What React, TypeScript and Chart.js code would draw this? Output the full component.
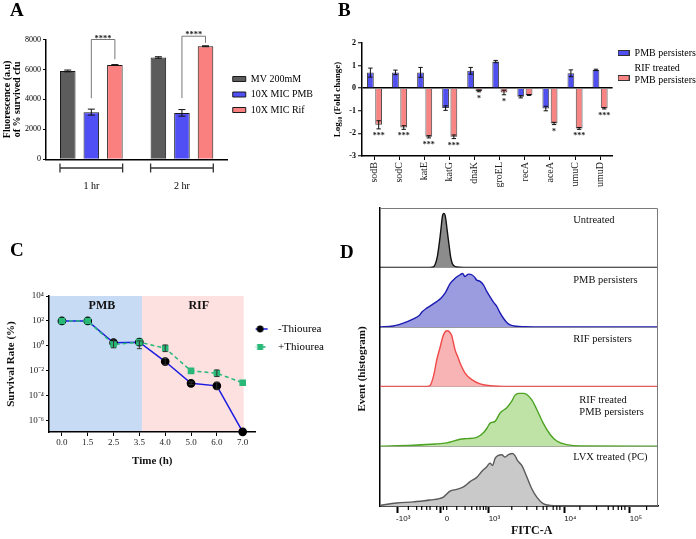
import React, { useEffect, useRef } from 'react';
import { Chart, registerables } from 'chart.js';

Chart.register(...registerables);

const SERIF = "'Liberation Serif', 'Times New Roman', serif";
const SANS = "'Liberation Sans', Arial, sans-serif";

// ===== Panel A : fluorescence (a.u) =====
const aGroups = ['1 hr', '2 hr'];
const aSeriesNames = ['MV 200mM', '10X MIC PMB', '10X MIC Rif'];
const aMV = [5900, 6800];
const aPMB = [3150, 3100];
const aRif = [6300, 7550];
const aMVErr = [60, 50];
const aPMBErr = [200, 220];
const aRifErr = [25, 30];
const aSigLabels = ['****', '****'];
const aSigTop = [8000, 8220];
const aSigLeftEnd = [4080, 4090];
const aSigRightEnd = [6680, 7780];

// ===== Panel B : log10 fold change =====
const bGenes = ['sodB', 'sodC', 'katE', 'katG', 'dnaK', 'groEL', 'recA', 'aceA', 'umuC', 'umuD'];
const bSeriesNames: any[] = ['PMB persisters', ['RIF treated', 'PMB persisters']];
const bPMB = [0.69, 0.7, 0.7, -0.88, 0.77, 1.18, -0.38, -0.9, 0.66, 0.81];
const bPMBErr = [0.2, 0.1, 0.22, 0.1, 0.15, 0.05, 0.05, 0.1, 0.15, 0.03];
const bRIF = [-1.62, -1.74, -2.15, -2.15, -0.12, -0.19, -0.3, -1.56, -1.78, -0.89];
const bRIFErr = [0.18, 0.08, 0.05, 0.08, 0.04, 0.1, 0.02, 0.05, 0.04, 0.03];
const bStars = ['***', '***', '***', '***', '*', '*', '', '*', '***', '***'];

// ===== Panel C : survival rate =====
const cTimes = ['0.0', '1.5', '2.5', '3.5', '4.0', '5.0', '6.0', '7.0'];
const cSeriesNames = ['-Thiourea', '+Thiourea'];
const cMinus = [100, 100, 1.8, 2.0, 0.056, 0.001, 0.00063, 1.3e-7];
const cMinusLo = [100, 100, 0.7, 0.6, 0.03, 0.0008, 0.00034, 1.3e-7];
const cMinusHi = [100, 100, 3.0, 2.5, 0.1, 0.0013, 0.0012, 1.3e-7];
const cPlus = [100, 100, 1.3, 2.0, 0.65, 0.01, 0.0065, 0.0011];
const cPlusLo = [100, 100, 1.3, 2.0, 0.35, 0.01, 0.0035, 0.0011];
const cPlusHi = [100, 100, 1.3, 2.0, 1.2, 0.01, 0.012, 0.0011];
const cYTicks = [1e-6, 1e-4, 1e-2, 1, 1e2, 1e4];
const cYTickLabels = ['10⁻⁶', '10⁻⁴', '10⁻²', '10⁰', '10²', '10⁴'];
const cPhaseNames = ['PMB', 'RIF'];
const cPhaseFrom = [-0.5, 3.1];
const cPhaseTo = [3.1, 7.04];
const cPhaseLabelAt = [1.55, 5.3];

// ===== Panel D : FITC-A histograms (channel, % of strip height) =====
const dLabels: any[] = ['Untreated', 'PMB persisters', 'RIF persisters', ['RIF treated', 'PMB persisters'], 'LVX treated (PC)'];
const dUntreated = [[0, 0.3], [180, 0.3], [192, 1], [199, 6], [206, 18], [211, 33], [216, 51], [220, 68], [223, 81], [226, 89], [230, 91], [234, 88], [237, 80], [241, 65], [245, 50], [250, 32], [254, 18], [260, 7], [266, 3], [275, 1], [300, 0.3], [1000, 0.3]];
const dPMB = [[0, 0.5], [47, 2], [96, 9], [120, 14], [144, 21], [150, 25], [168, 32], [185, 37], [204, 43], [220, 49], [234, 57], [252, 73], [270, 82], [288, 88], [297, 90], [306, 85], [318, 89], [330, 88], [340, 84], [348, 79], [360, 77], [372, 71], [384, 60], [396, 51], [408, 42], [420, 35], [432, 24], [444, 15], [456, 8], [468, 4], [490, 1.5], [520, 0.8], [600, 0.4], [1000, 0.3]];
const dRIF = [[0, 0.4], [170, 0.5], [180, 2], [192, 17], [198, 30], [204, 45], [216, 66], [226, 84], [234, 92], [242, 94], [250, 92], [258, 86], [264, 74], [270, 62], [280, 50], [288, 40], [306, 23], [330, 12], [360, 5], [396, 1.7], [468, 0.5], [1000, 0.4]];
const dRifPmb = [[0, 0.5], [119, 2], [200, 4], [240, 6], [288, 12], [312, 13], [348, 15], [372, 23], [384, 30], [396, 39], [414, 42], [432, 56], [456, 65], [474, 76], [486, 86], [500, 89], [516, 89], [528, 87], [546, 78], [564, 62], [587, 39], [612, 20], [636, 9], [672, 3], [719, 0.6], [1000, 0.4]];
const dLVX = [[0, 1], [60, 5], [120, 7], [180, 10], [228, 15], [252, 25], [276, 28], [300, 32], [324, 41], [348, 48], [366, 58], [384, 66], [396, 72], [405, 68], [414, 80], [426, 85], [438, 86], [450, 82], [462, 86], [477, 88], [486, 84], [495, 76], [510, 68], [528, 49], [546, 29], [564, 15], [587, 4], [612, 1], [647, 0.4], [1000, 0.3]];
const dSeries = [dUntreated, dPMB, dRIF, dRifPmb, dLVX];
const dMajorTicks = [62, 219, 390, 663, 899];
const dMajorLabels = ['-10³', '0', '10³', '10⁴', '10⁵'];
const dMinorTicks = [102, 132, 150, 168, 180, 204, 228, 240, 276, 306, 330, 348, 360, 372, 381, 474, 528, 564, 587, 600, 623, 636, 647, 719, 779, 821, 839, 857, 869, 881, 959];

// ---------- styles (kept apart from data) ----------
const aColors = ['#5c5c5c', '#4f4ff5', '#fa8080'];
const bColors = ['#5050f0', '#f88484'];
const dLine = ['#111111', '#1c1cb4', '#f04a4a', '#4ca323', '#5a5a5a'];
const dFill = ['#8c8c8c', '#9b9be0', '#f8b4b4', '#bfe3a6', '#c9c9c9'];
const dLabelX = [695, 695, 695, 717, 695];
const dLabelDy = [12, 12.5, 12, 13, 10.5];

function drawErr(ctx: any, x: number, yA: number, yB: number, cap: number, color = '#111', lw = 1) {
  ctx.save();
  ctx.strokeStyle = color;
  ctx.lineWidth = lw;
  ctx.beginPath();
  ctx.moveTo(x, yA); ctx.lineTo(x, yB);
  ctx.moveTo(x - cap, yA); ctx.lineTo(x + cap, yA);
  ctx.moveTo(x - cap, yB); ctx.lineTo(x + cap, yB);
  ctx.stroke();
  ctx.restore();
}

function makeImg(w: number, h: number, draw: (g: CanvasRenderingContext2D) => void) {
  const c = document.createElement('canvas');
  c.width = w; c.height = h;
  draw(c.getContext('2d') as CanvasRenderingContext2D);
  return c;
}

function configA(): any {
  const plugin = {
    id: 'aExtras',
    afterDatasetsDraw(chart: any) {
      const { ctx } = chart;
      const y = chart.scales.y;
      const errs = [aMVErr, aPMBErr, aRifErr];
      chart.data.datasets.forEach((ds: any, i: number) => {
        chart.getDatasetMeta(i).data.forEach((bar: any, j: number) => {
          const v = ds.data[j];
          const e = errs[i][j];
          drawErr(ctx, bar.x, y.getPixelForValue(v + e), y.getPixelForValue(v - e), 3.5);
        });
      });
    },
    afterDraw(chart: any) {
      const { ctx, chartArea } = chart;
      const y = chart.scales.y;
      const m0 = chart.getDatasetMeta(0).data;
      const m1 = chart.getDatasetMeta(1).data;
      const m2 = chart.getDatasetMeta(2).data;
      ctx.save();
      ctx.strokeStyle = '#333';
      ctx.lineWidth = 1.3;
      aGroups.forEach((_, j) => {
        const l = m0[j].x - m0[j].width / 2;
        const r = m2[j].x + m2[j].width / 2;
        const yy = chartArea.bottom + 8.7;
        ctx.beginPath();
        ctx.moveTo(l, yy); ctx.lineTo(r, yy);
        ctx.moveTo(l, yy - 4.5); ctx.lineTo(l, yy + 4.5);
        ctx.moveTo(r, yy - 4.5); ctx.lineTo(r, yy + 4.5);
        ctx.stroke();
      });
      ctx.strokeStyle = '#777';
      ctx.lineWidth = 1;
      ctx.fillStyle = '#222';
      ctx.font = `bold 8.5px ${SERIF}`;
      ctx.textAlign = 'center';
      ctx.textBaseline = 'alphabetic';
      aSigLabels.forEach((t, j) => {
        const xl = m1[j].x, xr = m2[j].x;
        const yt = y.getPixelForValue(aSigTop[j]);
        ctx.beginPath();
        ctx.moveTo(xl, y.getPixelForValue(aSigLeftEnd[j]));
        ctx.lineTo(xl, yt); ctx.lineTo(xr, yt);
        ctx.lineTo(xr, y.getPixelForValue(aSigRightEnd[j]));
        ctx.stroke();
        ctx.fillText(t, (xl + xr) / 2, yt + 1);
      });
      ctx.restore();
    },
  };
  const series = [aMV, aPMB, aRif];
  return {
    type: 'bar',
    data: {
      labels: aGroups,
      datasets: series.map((d, i) => ({
        label: aSeriesNames[i], data: d, backgroundColor: aColors[i], borderColor: '#1a1a1a', borderWidth: 1,
        categoryPercentage: 0.78, barPercentage: 0.66,
      })),
    },
    options: {
      responsive: false, animation: false,
      layout: { padding: { left: 0, top: 39.5, right: 0, bottom: 0 } },
      plugins: {
        tooltip: { enabled: false },
        legend: {
          position: 'right', align: 'start', maxWidth: 300,
          title: { display: true, text: '', font: { size: 1 }, padding: { top: 0, bottom: 27.8 } },
          labels: { boxWidth: 13, boxHeight: 5, padding: 5.5, color: '#000', font: { family: SERIF, size: 10 } },
        },
      },
      scales: {
        x: {
          grid: { display: false },
          border: { display: true, color: '#000', width: 1.5 },
          ticks: { padding: 13, color: '#000', font: { family: SERIF, size: 10 } },
          afterFit: (s: any) => { s.height = 40.7; },
        },
        y: {
          min: 0, max: 8000,
          ticks: { stepSize: 2000, color: '#000', padding: 2, font: { family: SERIF, size: 8 }, callback: (v: any) => String(v) },
          grid: { drawOnChartArea: false, tickLength: 3, tickColor: '#000', tickWidth: 1 },
          border: { color: '#000', width: 1.5 },
          title: {
            display: true, text: ['Fluorescence (a.u)', 'of % survived cfu'], color: '#000',
            font: { family: SERIF, size: 10, weight: 'bold', lineHeight: 0.95 }, padding: { top: 3, bottom: 0 },
          },
          afterFit: (s: any) => { s.width = 46; },
        },
      },
    },
    plugins: [plugin],
  };
}

function configB(): any {
  const plugin = {
    id: 'bExtras',
    afterDatasetsDraw(chart: any) {
      const { ctx } = chart;
      const y = chart.scales.y;
      const vals = [bPMB, bRIF];
      const errs = [bPMBErr, bRIFErr];
      vals.forEach((vs, i) => {
        chart.getDatasetMeta(i).data.forEach((bar: any, j: number) => {
          drawErr(ctx, bar.x, y.getPixelForValue(vs[j] + errs[i][j]), y.getPixelForValue(vs[j] - errs[i][j]), 2.2);
        });
      });
      ctx.save();
      ctx.fillStyle = '#222';
      ctx.font = `bold 8px ${SERIF}`;
      ctx.textAlign = 'center';
      ctx.textBaseline = 'top';
      chart.getDatasetMeta(1).data.forEach((bar: any, j: number) => {
        if (!bStars[j]) return;
        ctx.fillText(bStars[j], bar.x, y.getPixelForValue(bRIF[j] - bRIFErr[j]) + 3);
      });
      ctx.restore();
    },
  };
  const mkBox = (color: string, dy: number) => makeImg(12, 30, (g) => {
    g.fillStyle = color;
    g.strokeStyle = '#333';
    g.lineWidth = 1;
    g.fillRect(0.5, 12.5 + dy, 11, 5);
    g.strokeRect(0.5, 12.5 + dy, 11, 5);
  });
  const imgs = [mkBox(bColors[0], 0), mkBox(bColors[1], 10)];
  const series = [bPMB, bRIF];
  return {
    type: 'bar',
    data: {
      labels: bGenes,
      datasets: series.map((d, i) => ({
        label: bSeriesNames[i], data: d, backgroundColor: bColors[i], borderColor: '#444', borderWidth: 1,
        categoryPercentage: 0.66, barPercentage: 0.82,
      })),
    },
    options: {
      responsive: false, animation: false,
      layout: { padding: { left: 0, top: 43, right: 0, bottom: 0 } },
      plugins: {
        tooltip: { enabled: false },
        legend: {
          position: 'right', align: 'start', maxWidth: 300,
          labels: {
            usePointStyle: true, pointStyleWidth: 12, padding: 5, color: '#000',
            font: { family: SERIF, size: 10 },
            generateLabels: () => bSeriesNames.map((t, i) => ({
              text: t, pointStyle: imgs[i], fillStyle: bColors[i], strokeStyle: '#333', lineWidth: 0,
              hidden: false, datasetIndex: i, fontColor: '#000',
            })),
          },
        },
      },
      scales: {
        x: {
          grid: { drawOnChartArea: false, offset: false, tickLength: 4, tickColor: '#000', tickWidth: 1 },
          border: { color: '#000', width: 1.5 },
          ticks: { minRotation: 90, maxRotation: 90, padding: 2, color: '#222', autoSkip: false, font: { family: SERIF, size: 10 } },
          afterFit: (s: any) => { s.height = 44; },
        },
        y: {
          min: -3, max: 2,
          ticks: { stepSize: 1, color: '#000', padding: 2, font: { family: SERIF, size: 8, weight: 'bold' } },
          grid: {
            color: (c: any) => (c.tick && c.tick.value === 0 ? '#000' : 'rgba(0,0,0,0)'),
            lineWidth: 1.5, tickColor: '#000', tickLength: 4, tickWidth: 1,
          },
          border: { color: '#000', width: 1.5 },
          title: {
            display: true, text: 'Log₁₀ (Fold change)', color: '#000',
            font: { family: SERIF, size: 9, weight: 'bold' }, padding: { top: 2.6, bottom: 0 },
          },
          afterFit: (s: any) => { s.width = 32; },
        },
      },
    },
    plugins: [plugin],
  };
}

function configC(): any {
  const phaseColors = ['#c7dcf4', '#fde0e0'];
  const plugin = {
    id: 'cExtras',
    beforeDraw(chart: any) {
      const { ctx, chartArea: ca } = chart;
      const x = chart.scales.x;
      ctx.save();
      cPhaseNames.forEach((name, k) => {
        const l = x.getPixelForValue(cPhaseFrom[k]);
        const r = x.getPixelForValue(cPhaseTo[k]);
        ctx.fillStyle = phaseColors[k];
        ctx.fillRect(l, ca.top, r - l, ca.bottom - ca.top);
      });
      ctx.fillStyle = '#111';
      ctx.font = `bold 12px ${SERIF}`;
      ctx.textAlign = 'center';
      ctx.textBaseline = 'middle';
      cPhaseNames.forEach((name, k) => {
        ctx.fillText(name, x.getPixelForValue(cPhaseLabelAt[k]), ca.top + 9.5);
      });
      ctx.restore();
    },
    afterDatasetsDraw(chart: any) {
      const { ctx } = chart;
      const y = chart.scales.y;
      const los = [cMinusLo, cPlusLo];
      const his = [cMinusHi, cPlusHi];
      [0, 1].forEach((i) => {
        chart.getDatasetMeta(i).data.forEach((pt: any, j: number) => {
          if (los[i][j] === his[i][j]) return;
          drawErr(ctx, pt.x, y.getPixelForValue(his[i][j]), y.getPixelForValue(los[i][j]), 2.5, '#333', 1);
        });
      });
    },
  };
  const imgMinus = makeImg(40, 12, (g) => {
    g.strokeStyle = '#1a1ae0'; g.lineWidth = 1.5;
    g.beginPath(); g.moveTo(5, 6); g.lineTo(20, 6); g.stroke();
    g.fillStyle = '#000'; g.beginPath(); g.arc(12.5, 6, 3.4, 0, Math.PI * 2); g.fill();
  });
  const imgPlus = makeImg(40, 12, (g) => {
    g.strokeStyle = '#28b878'; g.lineWidth = 1.5; g.setLineDash([3, 2]);
    g.beginPath(); g.moveTo(5, 6); g.lineTo(20, 6); g.stroke();
    g.fillStyle = '#28b878'; g.fillRect(9.5, 3, 6, 6);
  });
  const imgs = [imgMinus, imgPlus];
  return {
    type: 'line',
    data: {
      labels: cTimes,
      datasets: [
        {
          label: cSeriesNames[0], data: cMinus, borderColor: '#1a1ae0', borderWidth: 1.5, order: 1,
          pointStyle: 'circle', pointRadius: 3.6, pointBackgroundColor: '#000', pointBorderColor: '#000', clip: false,
        },
        {
          label: cSeriesNames[1], data: cPlus, borderColor: '#28b878', borderWidth: 1.5, borderDash: [4, 3], order: 0,
          pointStyle: 'rect', pointRadius: 3.6, pointBackgroundColor: '#28b878', pointBorderColor: '#28b878', clip: false,
        },
      ],
    },
    options: {
      responsive: false, animation: false,
      layout: { padding: { left: 0, top: 66, right: 0, bottom: 0 } },
      plugins: {
        tooltip: { enabled: false },
        legend: {
          position: 'right', align: 'start', maxWidth: 300,
          title: { display: true, text: '', font: { size: 1 }, padding: { top: 0, bottom: 19.3 } },
          labels: {
            usePointStyle: true, pointStyleWidth: 10, padding: 7, color: '#000',
            font: { family: SERIF, size: 11 },
            generateLabels: () => cSeriesNames.map((t, i) => ({
              text: t, pointStyle: imgs[i], fillStyle: '#000', strokeStyle: '#000', lineWidth: 0,
              hidden: false, datasetIndex: i, fontColor: '#000',
            })),
          },
        },
      },
      scales: {
        x: {
          type: 'category', offset: true,
          grid: { drawOnChartArea: false, offset: false, tickLength: 4, tickColor: '#000', tickWidth: 1 },
          border: { color: '#000', width: 1.5 },
          ticks: { padding: 1, color: '#222', font: { family: SERIF, size: 9 } },
          title: {
            display: true, text: 'Time (h)', color: '#111',
            font: { family: SERIF, size: 11, weight: 'bold' }, padding: { top: 0, bottom: 0 },
          },
          afterFit: (s: any) => { s.height = 36; },
        },
        y: {
          type: 'logarithmic', min: 1.26e-7, max: 1e4,
          afterBuildTicks: (s: any) => { s.ticks = cYTicks.map((v) => ({ value: v })); },
          ticks: { color: '#222', padding: 2, font: { family: SERIF, size: 9 }, callback: (_v: any, i: number) => cYTickLabels[i] },
          grid: { drawOnChartArea: false, tickLength: 3, tickColor: '#000', tickWidth: 1 },
          border: { color: '#000', width: 1.5 },
          title: {
            display: true, text: 'Survival Rate (%)', color: '#111',
            font: { family: SERIF, size: 11, weight: 'bold' }, padding: { top: 4.4, bottom: 0 },
          },
          afterFit: (s: any) => { s.width = 49; },
        },
      },
    },
    plugins: [plugin],
  };
}

function configD(): any {
  const plugin = {
    id: 'dExtras',
    afterDraw(chart: any) {
      const { ctx, chartArea: ca, scales } = chart;
      const x = scales.x;
      ctx.save();
      ctx.strokeStyle = '#7a7a7a';
      ctx.lineWidth = 1;
      ctx.beginPath();
      ctx.moveTo(ca.left, ca.top + 0.5);
      ctx.lineTo(ca.right - 0.5, ca.top + 0.5);
      ctx.lineTo(ca.right - 0.5, ca.bottom);
      ctx.stroke();
      ctx.strokeStyle = '#000';
      ctx.lineWidth = 1.2;
      dMinorTicks.forEach((v) => {
        const px = x.getPixelForValue(v);
        ctx.beginPath(); ctx.moveTo(px, ca.bottom); ctx.lineTo(px, ca.bottom + 4); ctx.stroke();
      });
      ctx.fillStyle = '#111';
      ctx.font = `10.5px ${SERIF}`;
      ctx.textAlign = 'left';
      ctx.textBaseline = 'middle';
      dLabels.forEach((lab, i) => {
        const ys = scales['y' + i];
        const lines = Array.isArray(lab) ? lab : [lab];
        lines.forEach((t: string, k: number) => {
          ctx.fillText(t, x.getPixelForValue(dLabelX[i]), ys.top + dLabelDy[i] + k * 12);
        });
      });
      ctx.textAlign = 'center';
      ctx.font = `bold 12px ${SERIF}`;
      ctx.fillText('FITC-A', ca.left + 151.7, ca.bottom + 25);
      ctx.translate(ca.left - 18, (ca.top + ca.bottom) / 2 + 12);
      ctx.rotate(-Math.PI / 2);
      ctx.font = `bold 11px ${SERIF}`;
      ctx.fillText('Event (histogram)', 0, 0);
      ctx.restore();
    },
  };
  // stacked strips: the last declared axis is laid out on top, so declare them in reverse
  const yScales: any = {};
  for (let i = dLabels.length - 1; i >= 0; i--) {
    yScales['y' + i] = {
      type: 'linear', position: 'left', stack: 'hist', stackWeight: 1, offset: false,
      min: 0, max: 100,
      afterBuildTicks: (s: any) => { s.ticks = [{ value: 0 }]; },
      ticks: { display: false },
      grid: { drawTicks: false, color: '#9a9a9a', lineWidth: 1 },
      border: { color: '#000', width: 1.5 },
      afterFit: (s: any) => { s.width = 40; },
    };
  }
  return {
    type: 'line',
    data: {
      datasets: dSeries.map((pts, i) => ({
        label: Array.isArray(dLabels[i]) ? dLabels[i].join(' ') : dLabels[i],
        data: pts.map(([x, y]) => ({ x, y })),
        yAxisID: 'y' + i,
        borderColor: dLine[i], backgroundColor: dFill[i], borderWidth: 1.4,
        fill: 'origin', pointRadius: 0, cubicInterpolationMode: 'monotone',
      })),
    },
    options: {
      responsive: false, animation: false,
      layout: { padding: { left: 0, top: 3, right: 38, bottom: 0 } },
      plugins: { legend: { display: false }, tooltip: { enabled: false } },
      scales: {
        x: {
          type: 'linear', min: 0, max: 1000,
          afterBuildTicks: (s: any) => { s.ticks = dMajorTicks.map((v) => ({ value: v })); },
          ticks: {
            callback: (_v: any, i: number) => dMajorLabels[i], labelOffset: 6, padding: 1,
            color: '#111', autoSkip: false, maxRotation: 0, font: { family: SANS, size: 8 },
          },
          grid: { drawOnChartArea: false, tickLength: 7, tickWidth: 2, tickColor: '#000' },
          border: { color: '#000', width: 1.5 },
          afterFit: (s: any) => { s.height = 33; },
        },
        ...yScales,
      },
    },
    plugins: [plugin],
  };
}

const letter = (left: number, top: number): React.CSSProperties => ({
  position: 'absolute', left, top, fontFamily: SERIF, fontWeight: 'bold', fontSize: 19, lineHeight: '19px', color: '#000',
});

export default function App() {
  const aRef = useRef<HTMLCanvasElement>(null);
  const bRef = useRef<HTMLCanvasElement>(null);
  const cRef = useRef<HTMLCanvasElement>(null);
  const dRef = useRef<HTMLCanvasElement>(null);

  useEffect(() => {
    Chart.defaults.font.family = SERIF;
    Chart.defaults.color = '#000';
    const charts = [
      new Chart(aRef.current as HTMLCanvasElement, configA()),
      new Chart(bRef.current as HTMLCanvasElement, configB()),
      new Chart(cRef.current as HTMLCanvasElement, configC()),
      new Chart(dRef.current as HTMLCanvasElement, configD()),
    ];
    return () => charts.forEach((c) => c.destroy());
  }, []);

  return (
    <div style={{ position: 'fixed', left: 0, top: 0, width: 696, height: 539, overflow: 'hidden', background: '#fff' }}>
      <canvas ref={aRef} width={323} height={200} style={{ position: 'absolute', left: 0, top: 0 }} />
      <canvas ref={bRef} width={376} height={200} style={{ position: 'absolute', left: 330, top: 0 }} />
      <canvas ref={cRef} width={334} height={238} style={{ position: 'absolute', left: 0, top: 230 }} />
      <canvas ref={dRef} width={356} height={334} style={{ position: 'absolute', left: 340, top: 205 }} />
      <div style={letter(10, 0)}>A</div>
      <div style={letter(338, 0)}>B</div>
      <div style={letter(10, 240)}>C</div>
      <div style={letter(340, 242)}>D</div>
    </div>
  );
}
